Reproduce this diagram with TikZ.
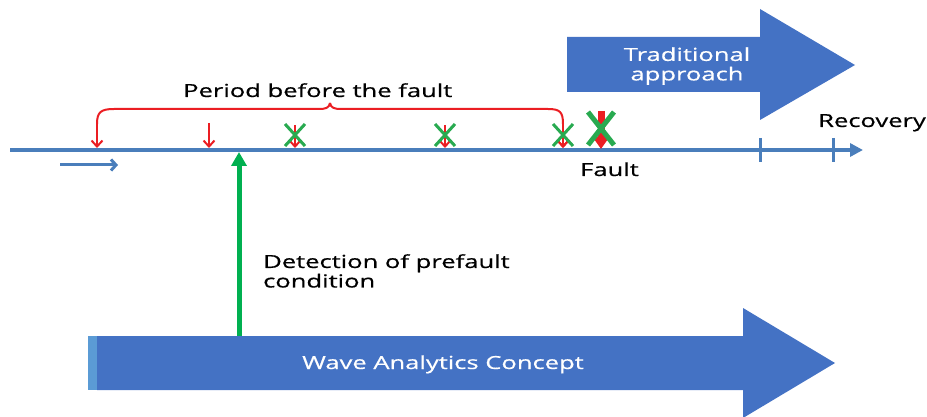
\documentclass[tikz,border=0pt]{standalone}
\usepackage{fontspec}
\setmainfont{Open Sans}[FakeStretch=1.42,FakeBold=0.6]
\usetikzlibrary{arrows.meta}

\definecolor{axisblue}{RGB}{74,126,187}
\definecolor{boxblue}{RGB}{68,114,196}
\definecolor{stripblue}{RGB}{91,155,213}
\definecolor{markred}{RGB}{235,30,35}
\definecolor{crossgreen}{RGB}{40,170,80}
\definecolor{detgreen}{RGB}{0,176,80}

\tikzset{
  lbl/.style={inner sep=0pt, font=\fontsize{18}{19.5}\selectfont},
  redmark/.style={draw=markred, line width=2pt, -{Straight Barb[length=6pt,width=11pt]}},
  crossmark/.style={draw=crossgreen, line width=3pt},
  bigarrow/.style={fill=boxblue, draw=none}
}

\begin{document}
\begin{tikzpicture}[x=1pt, y=-1pt]
\useasboundingbox (0,0) rectangle (927,417);

% big arrows
\fill[bigarrow] (567,37) -- (760,37) -- (760,9) -- (855,65) -- (760,120) -- (760,92) -- (567,92) -- cycle;
\fill[bigarrow] (97,336) -- (743,336) -- (743,308) -- (835,363) -- (743,418) -- (743,390) -- (97,390) -- cycle;
\fill[stripblue] (88,336) rectangle (97,390);

\node[lbl, text=white, align=center] (trad) at (687,66) {Traditional\\approach};
\node[lbl, text=white, anchor=base] (wave) at (443,369) {Wave Analytics Concept};

% time axis
\coordinate (t0) at (10,150);
\coordinate (t1) at (863,150);
\draw[axisblue, line width=4pt, -{Triangle[length=13pt,width=13pt]}] (t0) -- (t1);
\foreach \x in {760,833}
  \draw[axisblue, line width=3pt] (\x,138) -- (\x,162);

\coordinate (s0) at (60,165);
\coordinate (s1) at (118,165);
\draw[axisblue, line width=3pt, -{Straight Barb[length=5pt,width=11pt]}] (s0) -- (s1);

% period bracket
\coordinate (b0) at (97,148);
\coordinate (b1) at (563,148);
\draw[markred, line width=2pt] (97,124) .. controls (97,112) and (101,109) .. (114,109)
  -- (318,109) .. controls (326,109) and (329,108) .. (330,103);
\draw[markred, line width=2pt] (330,103) .. controls (331,108) and (334,109) .. (342,109)
  -- (548,109) .. controls (560,109) and (563,112) .. (563,124);
\draw[redmark] (97,123) -- (b0);
\draw[redmark] (563,123) -- (b1);

% prefault marks
\draw[redmark] (209,123) -- (209,148);
\foreach \x in {295,445,563} {
  \draw[redmark] (\x,125) -- (\x,148);
  \draw[crossmark] (\x-10,124) -- (\x+10,146);
  \draw[crossmark] (\x+10,124) -- (\x-10,146);
}

% fault
\coordinate (f0) at (601,111);
\coordinate (f1) at (601,149);
\draw[markred, line width=7pt, -{Triangle[length=12pt,width=16pt]}] (f0) -- (f1);
\draw[crossgreen, line width=5pt] (588,112) -- (614,145);
\draw[crossgreen, line width=5pt] (614,112) -- (588,145);

% labels
\node[lbl, anchor=base west] (period) at (183,97) {Period before the fault};
\node[lbl, anchor=base west] (fault) at (580,176) {Fault};
\node[lbl, anchor=base west] (recov) at (818,127) {Recovery};
\node[lbl, anchor=north west, align=left] (detect) at (263,254) {Detection of prefault\\condition};

% detection arrow
\coordinate (d0) at (239,336);
\coordinate (d1) at (239,152);
\draw[detgreen, line width=5pt, -{Triangle[length=14pt,width=15pt]}] (d0) -- (d1);

\end{tikzpicture}
\end{document}
